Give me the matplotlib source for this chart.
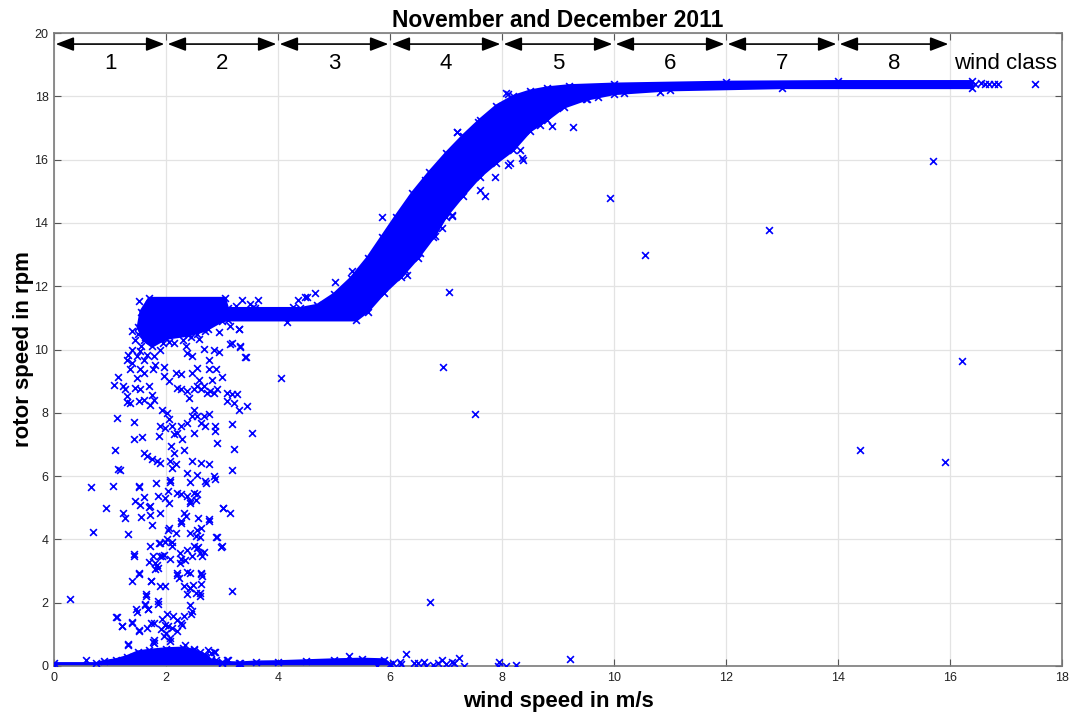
import matplotlib
matplotlib.use("Agg")
import matplotlib.pyplot as plt
import numpy as np

plt.rcParams['font.family'] = ['Liberation Sans', 'DejaVu Sans']

title = "November and December 2011"
xlabel = "wind speed in m/s"
ylabel = "rotor speed in rpm"
class_labels = ["1", "2", "3", "4", "5", "6", "7", "8"]
class_edges = [0, 2, 4, 6, 8, 10, 12, 14, 16]
class_caption = "wind class"
xticks = [0, 2, 4, 6, 8, 10, 12, 14, 16, 18]
yticks = [0, 2, 4, 6, 8, 10, 12, 14, 16, 18, 20]

# outline of the dense cloud (11 rpm plateau -> ramp -> 18.4 rpm plateau)
band_upper = [(1.70, 11.62), (3.05, 11.62), (3.10, 11.30), (4.40, 11.30), (4.70, 11.40),
              (5.00, 11.75), (5.30, 12.25), (5.60, 12.90), (5.85, 13.55), (6.10, 14.20),
              (6.40, 14.95), (6.70, 15.60), (7.00, 16.20), (7.30, 16.75), (7.60, 17.25),
              (7.90, 17.70), (8.20, 18.00), (8.50, 18.17), (8.80, 18.27), (9.20, 18.34),
              (10.0, 18.39), (12.0, 18.45), (14.0, 18.47), (16.4, 18.47)]
band_lower = [(16.4, 18.27), (13.0, 18.27), (11.0, 18.20), (10.0, 18.08), (9.50, 17.90),
              (9.10, 17.65), (8.80, 17.25), (8.50, 16.90), (8.20, 16.30), (7.90, 15.90),
              (7.60, 15.45), (7.30, 14.85), (7.00, 14.20), (6.80, 13.60), (6.50, 12.90),
              (6.20, 12.30), (5.90, 11.80), (5.60, 11.20), (5.40, 10.93), (3.10, 10.93),
              (3.00, 10.90), (2.70, 10.60), (2.40, 10.45), (2.00, 10.35), (1.75, 10.10),
              (1.60, 10.30), (1.50, 10.70), (1.55, 11.20)]

# outline of the dense cloud near 0 rpm
zero_upper = [(0.00, 0.08), (0.75, 0.08), (0.90, 0.15), (1.10, 0.20), (1.30, 0.30),
              (1.50, 0.45), (1.70, 0.50), (2.00, 0.55), (2.30, 0.57), (2.50, 0.50),
              (2.70, 0.35), (2.80, 0.20), (3.00, 0.12), (3.30, 0.10), (3.60, 0.13),
              (4.00, 0.14), (4.50, 0.17), (5.00, 0.20), (5.50, 0.22), (5.90, 0.20),
              (6.00, 0.05)]
zero_lower = [(6.00, 0.02), (3.30, 0.02), (0.00, 0.00)]

# scattered points, wind classes 1-2 (start-up region)
startup_pts = [
    (0.29, 2.13), (0.66, 5.65), (0.69, 4.24), (0.93, 4.99), (1.05, 5.68), (1.07, 8.88), (1.12, 7.84),
    (1.09, 6.82), (1.15, 6.21), (1.18, 6.19), (1.15, 9.13), (1.24, 4.84), (1.26, 4.68), (1.33, 4.18),
    (1.12, 1.55), (1.22, 1.26), (1.33, 0.68), (1.39, 2.67), (1.43, 3.53), (1.51, 2.95), (1.39, 1.40),
    (1.42, 7.71), (1.42, 7.18), (1.47, 1.79), (1.52, 1.14), (1.45, 5.21), (1.52, 5.68), (1.54, 5.10),
    (1.56, 4.72), (1.58, 7.24), (1.60, 6.74), (1.65, 2.26), (1.63, 1.97), (1.67, 1.81), (1.66, 1.20),
    (1.69, 3.28), (1.78, 0.82), (1.71, 5.05), (1.72, 4.77), (1.75, 4.45), (1.72, 3.79), (1.77, 3.47),
    (1.74, 2.70), (1.78, 1.37), (1.85, 2.05), (1.90, 2.53), (1.99, 2.53), (1.91, 1.16), (1.96, 0.95),
    (2.02, 1.63), (2.04, 1.26), (2.08, 0.79), (2.13, 1.58), (2.20, 1.10), (2.26, 1.37), (2.32, 1.58),
    (2.45, 1.63), (2.47, 1.74), (1.87, 3.89), (1.90, 3.47), (1.97, 3.52), (2.02, 4.00), (2.05, 4.37),
    (2.11, 3.79), (2.17, 4.21), (2.08, 3.37), (2.26, 3.37), (2.25, 3.58), (2.20, 2.95), (2.23, 2.79),
    (2.32, 2.53), (2.38, 2.26), (2.42, 2.47), (2.48, 2.55), (2.53, 2.32), (2.60, 2.21), (2.63, 2.95),
    (2.65, 2.84), (2.63, 2.58), (2.42, 2.95), (2.38, 3.68), (2.47, 3.47), (2.50, 3.79), (2.56, 3.74),
    (2.65, 3.47), (2.62, 4.37), (2.54, 4.11), (2.58, 4.68), (2.76, 4.63), (2.91, 4.07), (3.00, 3.79),
    (3.17, 2.37), (3.02, 5.00), (3.14, 4.84), (2.70, 5.84), (2.85, 6.00), (2.87, 5.92), (2.76, 6.37),
    (2.62, 6.42), (2.47, 6.47), (2.38, 6.10), (2.17, 6.37), (2.11, 6.26), (2.08, 6.47), (2.14, 6.74),
    (2.09, 6.95), (2.07, 5.89), (2.03, 5.53), (1.99, 5.32), (1.90, 4.84), (2.20, 5.47), (2.26, 5.42),
    (2.38, 5.37), (2.42, 5.16), (2.50, 5.47), (2.53, 5.26), (2.32, 4.84), (2.35, 4.74), (2.26, 4.53),
    (1.84, 6.47), (1.90, 6.42), (1.75, 6.53), (1.66, 6.63), (1.87, 7.26), (1.90, 7.58), (1.99, 7.53),
    (2.02, 8.00), (1.93, 8.10), (2.05, 7.79), (2.11, 7.58), (2.14, 7.32), (2.20, 7.37), (2.26, 7.58),
    (2.29, 7.16), (2.32, 6.84), (2.38, 7.68), (2.47, 7.89), (2.50, 8.10), (2.56, 7.89), (2.62, 7.68),
    (2.68, 7.89), (2.76, 7.95), (2.70, 7.58), (2.88, 7.58), (2.88, 7.42), (2.91, 7.05), (2.50, 7.37),
    (1.72, 8.26), (1.78, 8.42), (1.75, 8.55), (1.60, 8.42), (1.51, 8.37), (1.36, 8.32), (1.30, 8.34),
    (1.31, 8.53), (1.27, 8.74), (1.24, 8.84), (1.45, 8.79), (1.54, 8.74), (1.69, 8.84), (1.36, 9.37),
    (1.39, 9.58), (1.30, 9.68), (1.33, 9.84), (1.39, 10.00), (1.48, 9.79), (1.54, 9.95), (1.60, 9.68),
    (1.54, 9.37), (1.60, 9.26), (1.48, 9.11), (1.66, 9.84), (1.78, 9.79), (1.80, 9.50), (1.77, 9.37),
    (1.90, 10.00), (1.96, 9.45), (1.97, 9.16), (2.05, 9.00), (2.17, 9.26), (2.27, 9.23), (2.20, 8.79),
    (2.26, 8.74), (2.38, 8.68), (2.41, 8.47), (2.50, 8.74), (2.56, 8.84), (2.62, 8.74), (2.68, 8.84),
    (2.73, 8.63), (2.79, 8.68), (2.85, 8.63), (2.91, 8.74), (2.82, 9.05), (2.76, 9.37), (2.90, 9.37),
    (3.00, 9.13), (2.56, 9.42), (2.59, 9.05), (2.47, 9.26), (2.47, 9.79), (2.59, 10.32), (2.68, 10.03),
    (2.76, 9.68), (2.85, 10.00), (2.94, 9.92), (2.36, 10.10), (2.38, 9.89), (3.09, 8.63), (3.18, 8.58),
    (3.27, 8.58), (3.22, 8.32), (3.30, 8.10), (3.45, 8.21), (3.09, 8.37), (3.17, 10.21), (3.33, 10.11),
    (3.31, 10.65), (3.43, 9.77), (3.17, 7.66), (3.21, 6.86), (3.17, 6.18), (3.54, 7.37), (4.06, 9.09),
    (1.52, 5.67), (1.60, 5.35), (1.70, 5.03), (1.83, 5.79), (1.86, 5.37), (2.07, 5.82), (2.06, 5.16),
    (2.43, 5.82), (2.56, 6.04), (2.71, 5.79), (2.42, 5.21), (2.55, 5.45), (2.76, 4.59), (3.01, 4.98),
    (2.90, 4.07), (2.99, 3.77), (2.27, 4.58), (2.43, 4.19), (2.55, 4.30), (2.61, 4.08), (2.58, 3.77),
    (2.61, 3.56), (2.67, 3.60), (2.34, 3.35), (2.25, 3.25), (2.04, 4.30), (1.98, 3.93), (1.89, 3.88),
    (2.10, 3.93), (1.92, 3.46), (1.80, 3.25), (1.84, 3.20), (1.81, 3.05), (1.86, 3.10), (1.42, 3.48),
    (1.51, 2.91), (1.74, 2.69), (1.64, 2.21), (2.20, 2.88), (2.38, 2.96), (2.62, 2.91), (2.43, 2.45),
    (2.42, 1.93), (2.61, 2.31), (1.11, 1.54), (1.21, 1.26), (1.48, 1.72), (1.63, 1.93), (1.67, 1.79),
    (1.74, 1.35), (1.86, 1.95), (1.93, 1.50), (1.98, 1.30), (2.00, 1.05), (2.07, 0.90), (2.10, 1.20),
    (2.20, 1.45), (2.29, 1.30), (1.77, 0.77), (2.34, 0.66), (2.86, 0.45),
    (1.52, 11.54), (3.35, 11.56), (3.56, 11.35), (3.14, 10.74), (3.31, 10.64), (3.14, 10.17),
    (3.32, 10.09), (3.41, 9.75), (3.25, 11.37), (3.64, 11.56), (3.50, 11.45),
    (1.45, 10.30), (1.50, 10.50), (1.56, 10.10), (1.62, 10.40), (1.95, 10.20), (2.05, 10.25),
    (2.15, 10.20), (2.30, 10.30), (2.55, 10.50), (2.75, 10.65), (2.95, 10.55), (2.45, 10.40), (1.40, 10.60),
]

# scattered points close to 0 rpm
standstill_pts = [
    (0.58, 0.19), (1.32, 0.66), (1.40, 1.37), (1.52, 1.12), (1.79, 0.74), (3.09, 0.19), (2.50, 0.55),
    (2.60, 0.45), (2.70, 0.30), (2.80, 0.40), (2.90, 0.20), (3.00, 0.10), (2.75, 0.50), (2.65, 0.25),
    (2.55, 0.30), (2.875, 0.45), (3.11, 0.19), (3.32, 0.10), (5.26, 0.33), (6.29, 0.38), (6.18, 0.14),
    (5.76, 0.00), (6.42, 0.08), (6.92, 0.19), (7.10, 0.14), (7.24, 0.24), (7.32, 0.00), (7.95, 0.14),
    (7.93, 0.00), (8.08, 0.00), (8.25, 0.03), (6.77, 0.03), (6.60, 0.14), (6.50, 0.10), (6.85, 0.10),
    (7.00, 0.05), (7.15, 0.08), (6.65, 0.00), (6.20, 0.05), (6.05, 0.10), (9.21, 0.22), (6.71, 2.02),
]

# scattered points around the ramp and the rated plateau
ramp_pts = [
    (7.20, 16.87), (7.58, 17.20), (8.11, 18.07), (8.89, 17.07), (8.38, 16.00), (8.32, 16.30),
    (8.11, 15.83), (7.88, 15.46), (7.70, 14.85), (7.61, 15.04), (6.92, 13.83), (6.77, 13.56),
    (7.10, 14.22), (5.85, 14.18), (6.06, 13.88), (6.42, 14.78), (6.63, 15.36), (7.04, 15.97),
    (7.16, 16.33), (7.37, 16.53), (6.27, 12.51), (6.54, 13.04), (7.06, 11.83), (9.27, 17.02),
    (8.08, 18.10), (5.32, 12.49), (5.02, 12.14), (4.66, 11.78), (4.48, 11.65), (4.36, 11.56),
    (4.16, 10.88), (6.30, 12.35), (7.10, 14.25), (7.19, 16.88), (8.14, 15.88), (9.72, 17.97),
    (9.51, 17.91), (8.35, 16.04), (8.68, 17.09), (8.98, 17.62), (10.17, 18.09), (10.82, 18.13),
    (3.59, 11.30), (4.51, 11.67), (4.27, 11.35), (6.95, 9.45), (7.52, 7.96),
    (16.45, 18.38), (16.55, 18.42), (16.62, 18.40), (16.70, 18.38), (16.78, 18.40), (16.86, 18.40),
]

# isolated outliers
outlier_pts = [
    (9.93, 14.79), (10.55, 12.99), (12.77, 13.78), (15.70, 15.96), (16.21, 9.64),
    (14.39, 6.82), (15.91, 6.45), (17.52, 18.39),
]

BLUE = "#0000ff"

fig = plt.figure(figsize=(10.7, 7.14), dpi=100)
ax = fig.add_axes([54 / 1070, 48 / 714, 1008 / 1070, 633 / 714])

# dense clouds
for upper, lower in [(band_upper, band_lower), (zero_upper, zero_lower)]:
    poly = upper + lower
    px = [p[0] for p in poly]
    py = [p[1] for p in poly]
    ax.fill(px, py, color=BLUE, lw=2.0, zorder=2)
    ax.scatter(px, py, marker="x", s=24, c=BLUE, linewidths=1.2, zorder=3)

for pts in [startup_pts, standstill_pts, ramp_pts, outlier_pts]:
    ax.scatter([p[0] for p in pts], [p[1] for p in pts], marker="x", s=24,
               c=BLUE, linewidths=1.2, zorder=3)

ax.set_xlim(0, 18)
ax.set_ylim(0, 20)
ax.set_xticks(xticks)
ax.set_yticks(yticks)
ax.grid(True, color="#e3e3e3", lw=0.9, zorder=0)
ax.set_axisbelow(True)
for s in ax.spines.values():
    s.set_color("#7a7a7a")
    s.set_linewidth(1.2)
ax.tick_params(direction="in", length=5, width=0.8, color="#555555", labelsize=9,
               labelcolor="#222222", top=True, right=True, pad=4)

# wind class arrows
for i, lab in enumerate(class_labels):
    x0 = class_edges[i]
    ax.annotate("", xy=(x0 + 1.97, 19.65), xytext=(x0 + 0.03, 19.65),
                arrowprops=dict(arrowstyle="<|-|>,head_length=1.1,head_width=0.42",
                                color="black", lw=1.2, shrinkA=0, shrinkB=0),
                zorder=5)
    ax.text(x0 + 1.0, 19.05, lab, ha="center", va="center", fontsize=16)
ax.text(17.0, 19.05, class_caption, ha="center", va="center", fontsize=16)

ax.set_title(title, fontsize=16.5, fontweight="bold", pad=4)
ax.set_xlabel(xlabel, fontsize=16, fontweight="bold", labelpad=5)
ax.set_ylabel(ylabel, fontsize=16, fontweight="bold", labelpad=0)

fig.savefig("out.png", dpi=100)
